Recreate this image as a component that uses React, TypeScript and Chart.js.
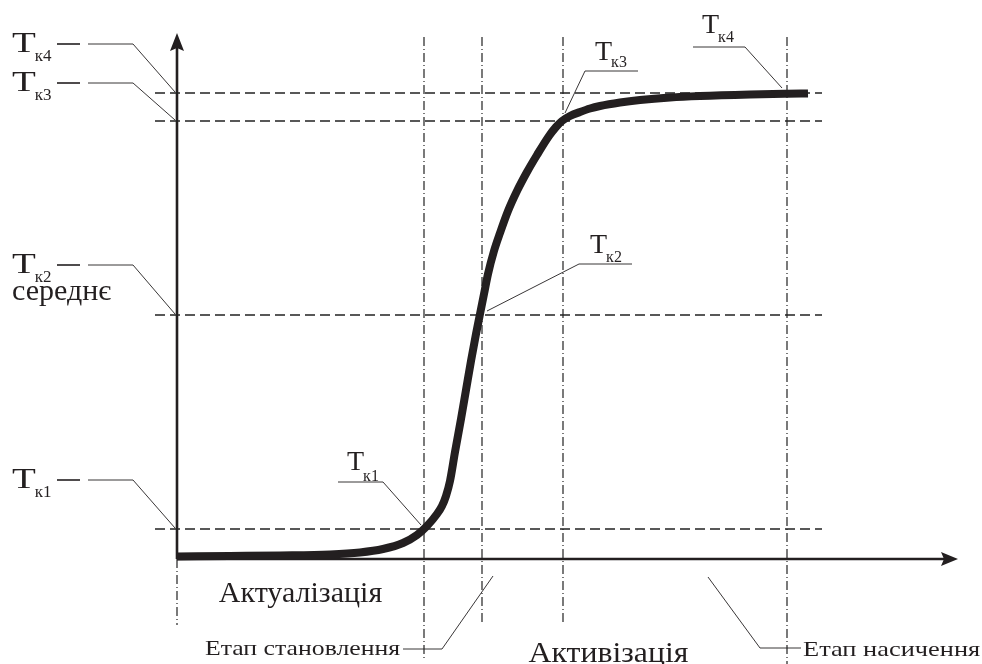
import React, { useEffect, useRef } from "react";
import { Chart, registerables } from "chart.js";

Chart.register(...registerables);

// ---- data (x: time units from origin, y: level units from origin) ----
const curveX = [0, 53, 103, 153, 183, 206, 226, 240, 250, 260, 265, 269, 273, 278, 284, 289, 294, 299, 303, 307, 311, 317, 323, 331, 340, 350, 360, 372, 379, 385, 393, 403, 413, 423, 443, 463, 493, 523, 573, 610, 631];
const curveY = [2.5, 3, 3.5, 4.5, 6.5, 10, 16, 24, 33, 45, 53, 63, 78, 107, 140, 169, 198, 225, 245, 265, 285, 308, 326, 348, 368, 387, 404, 423, 432, 438, 443, 447, 450.5, 453, 456.5, 459, 461.5, 463, 464.5, 465.2, 465.5];

const levelNames = ["к1", "к2", "к3", "к4"];
const levelValues = [30, 244, 438, 466];
const phaseBounds = [0, 247, 305, 386, 610];

const xMax = 781;
const yMax = 526;

// ---- layout / style ----
const INK = "#231f20";
const FONT = "'Liberation Serif', 'Times New Roman', serif";
const levelLineFrom = -22;
const levelLineTo = 645;
const phaseTop = 522;
const phaseBottom = [-66, -101, -66, -66, -105];

// left labels: row offset above level line
const leftRowOffset = [49, 50, 38, 49];
// curve annotations: offsets relative to (phase bound i+1, level i)
const annot = [
  { end: [-3, -4], elbow: [-41, -47], tail: -86, tx: -77, tb: -59, sb: -48 },
  { end: [5, -4], elbow: [97, -51], tail: 150, tx: 108, tb: -62, sb: -53 },
  { end: [2, -8], elbow: [22, -50], tail: 75, tx: 32, tb: -61, sb: -54 },
  { end: [-5, -5], elbow: [-42, -46], tail: -94, tx: -85, tb: -60, sb: -51 },
];

function drawText(ctx: CanvasRenderingContext2D, t: string, x: number, y: number, size: number, sx = 1) {
  ctx.save();
  ctx.font = `${size}px ${FONT}`;
  ctx.fillStyle = INK;
  ctx.textBaseline = "alphabetic";
  ctx.textAlign = "left";
  ctx.translate(x, y);
  ctx.scale(sx, 1);
  ctx.fillText(t, 0, 0);
  const w = ctx.measureText(t).width * sx;
  ctx.restore();
  return w;
}

function line(ctx: CanvasRenderingContext2D, pts: number[][], w = 1) {
  ctx.save();
  ctx.strokeStyle = INK;
  ctx.lineWidth = w;
  ctx.beginPath();
  pts.forEach((p, i) => (i === 0 ? ctx.moveTo(p[0], p[1]) : ctx.lineTo(p[0], p[1])));
  ctx.stroke();
  ctx.restore();
}

const axesPlugin = {
  id: "arrowAxes",
  beforeDatasetsDraw(chart: any) {
    const { ctx } = chart;
    const xs = chart.scales.x;
    const ys = chart.scales.y;
    const ox = xs.getPixelForValue(0);
    const oy = ys.getPixelForValue(0);
    const right = xs.getPixelForValue(xMax);
    const top = ys.getPixelForValue(yMax);
    ctx.save();
    ctx.strokeStyle = INK;
    ctx.fillStyle = INK;
    ctx.lineWidth = 2.6;
    ctx.beginPath();
    ctx.moveTo(ox, oy);
    ctx.lineTo(right - 12, oy);
    ctx.moveTo(ox, oy);
    ctx.lineTo(ox, top + 12);
    ctx.stroke();
    ctx.beginPath();
    ctx.moveTo(right, oy);
    ctx.lineTo(right - 17, oy - 7);
    ctx.lineTo(right - 14, oy);
    ctx.lineTo(right - 17, oy + 7);
    ctx.closePath();
    ctx.fill();
    ctx.beginPath();
    ctx.moveTo(ox, top);
    ctx.lineTo(ox - 7, top + 18);
    ctx.lineTo(ox, top + 15);
    ctx.lineTo(ox + 7, top + 18);
    ctx.closePath();
    ctx.fill();
    ctx.restore();
  },
  afterDatasetsDraw(chart: any) {
    const { ctx } = chart;
    const xs = chart.scales.x;
    const ys = chart.scales.y;
    const ox = xs.getPixelForValue(0);
    const oy = ys.getPixelForValue(0);

    // left labels
    levelValues.forEach((v, i) => {
      const ly = ys.getPixelForValue(v);
      const row = ly - leftRowOffset[i];
      line(ctx, [[ox - 120, row], [ox - 97, row]], 1.6);
      line(ctx, [[ox - 89, row], [ox - 44, row], [ox - 2, ly - 1]], 0.9);
      const w = drawText(ctx, "T", ox - 165, row + 8, 30, 1.3);
      drawText(ctx, levelNames[i], ox - 165 + w - 1, row + 17, 17);
      if (i === 1) drawText(ctx, "середнє", ox - 165, row + 35, 30);
    });

    // curve annotations
    levelValues.forEach((v, i) => {
      const a = annot[i];
      const px = xs.getPixelForValue(phaseBounds[i + 1]);
      const py = ys.getPixelForValue(v);
      line(ctx, [
        [px + a.end[0], py + a.end[1]],
        [px + a.elbow[0], py + a.elbow[1]],
        [px + a.tail, py + a.elbow[1]],
      ], 0.9);
      const w = drawText(ctx, "T", px + a.tx, py + a.tb, 28);
      drawText(ctx, levelNames[i], px + a.tx + w - 1, py + a.sb, 16);
    });

    // phase labels
    const p = (i: number) => xs.getPixelForValue(phaseBounds[i]);
    ctx.save();
    ctx.font = `30px ${FONT}`;
    const w1 = ctx.measureText("Актуалізація").width;
    const w2 = ctx.measureText("Активізація").width * 1.06;
    ctx.restore();
    drawText(ctx, "Актуалізація", (p(0) + p(1)) / 2 - w1 / 2, oy + 43, 30);
    drawText(ctx, "Активізація", (p(1) + p(4)) / 2 - w2 / 2 + 3, oy + 103, 30, 1.06);

    drawText(ctx, "Етап становлення", ox + 28, oy + 96, 22, 1.17);
    line(ctx, [[ox + 226, oy + 90], [ox + 265, oy + 90], [ox + 316, oy + 17]], 0.9);
    drawText(ctx, "Етап насичення", ox + 626, oy + 97, 22, 1.2);
    line(ctx, [[ox + 624, oy + 89], [ox + 583, oy + 89], [ox + 531, oy + 18]], 0.9);
  },
};

export default function App() {
  const ref = useRef<HTMLCanvasElement | null>(null);
  useEffect(() => {
    if (!ref.current) return;
    const curve = curveX.map((x, i) => ({ x, y: curveY[i] }));
    const levelSets = levelValues.map((v) => ({
      data: [{ x: levelLineFrom, y: v }, { x: levelLineTo, y: v }],
      borderColor: "#222",
      borderWidth: 1.4,
      borderDash: [10, 5],
      pointRadius: 0,
      showLine: true,
      clip: false as any,
      order: 2,
    }));
    const phaseSets = phaseBounds.map((b, i) => ({
      data: [{ x: b, y: i === 0 ? 0 : phaseTop }, { x: b, y: phaseBottom[i] }],
      borderColor: "#222",
      borderWidth: 1.2,
      borderDash: [9, 3, 1, 3],
      pointRadius: 0,
      showLine: true,
      clip: false as any,
      order: 3,
    }));
    const chart = new Chart(ref.current, {
      type: "scatter",
      data: {
        datasets: [
          {
            data: curve,
            borderColor: INK,
            borderWidth: 8,
            pointRadius: 0,
            showLine: true,
            cubicInterpolationMode: "monotone",
            borderJoinStyle: "round",
            clip: false as any,
            order: 1,
          } as any,
          ...levelSets,
          ...phaseSets,
        ],
      },
      options: {
        animation: false,
        responsive: false,
        layout: { padding: { left: 177, right: 24, top: 33, bottom: 105 } },
        plugins: { legend: { display: false }, tooltip: { enabled: false } },
        scales: {
          x: { type: "linear", min: 0, max: xMax, display: false },
          y: { type: "linear", min: 0, max: yMax, display: false },
        },
      },
      plugins: [axesPlugin],
    });
    return () => chart.destroy();
  }, []);
  return (
    <div style={{ position: "fixed", left: 0, top: 0, width: 982, height: 664, background: "#fff" }}>
      <canvas ref={ref} width={982} height={664} />
    </div>
  );
}
